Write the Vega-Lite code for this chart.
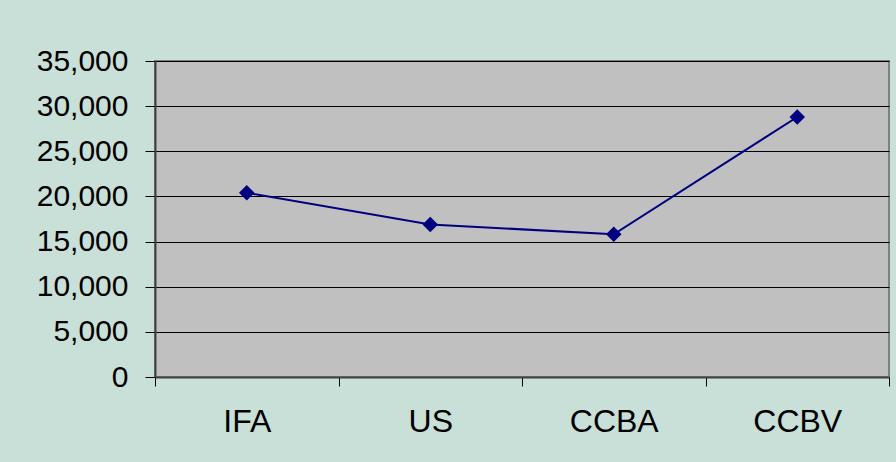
{
  "$schema": "https://vega.github.io/schema/vega-lite/v6.json",
  "width": 734,
  "height": 316,
  "autosize": {"type": "none"},
  "padding": {"left": 155, "top": 61, "right": 7, "bottom": 85},
  "background": "#c8e0d8",
  "data": {
    "values": [
      {"group": "IFA", "value": 20400},
      {"group": "US", "value": 16900},
      {"group": "CCBA", "value": 15800},
      {"group": "CCBV", "value": 28800}
    ]
  },
  "config": {
    "font": "Liberation Sans",
    "view": {"fill": "#c0c0c0", "stroke": "#808080", "strokeWidth": 2}
  },
  "mark": {"type": "line", "color": "#000080", "strokeWidth": 2, "point": {"shape": "diamond", "size": 240, "filled": true, "color": "#000080", "opacity": 1}},
  "encoding": {
    "x": {
      "field": "group",
      "type": "nominal",
      "sort": null,
      "scale": {"type": "band", "paddingInner": 0, "paddingOuter": 0},
      "axis": {
        "title": null,
        "labelAngle": 0,
        "labelFontSize": 32,
        "labelColor": "black",
        "labelPadding": 20,
        "tickBand": "extent",
        "tickSize": 9,
        "tickColor": "black",
        "domainColor": "#404040",
        "domainWidth": 2,
        "grid": false
      }
    },
    "y": {
      "field": "value",
      "type": "quantitative",
      "scale": {"domain": [0, 35000], "nice": false},
      "axis": {
        "title": null,
        "values": [0, 5000, 10000, 15000, 20000, 25000, 30000, 35000],
        "format": ",d",
        "labelFontSize": 30,
        "labelColor": "black",
        "labelPadding": 17,
        "tickSize": 10,
        "tickColor": "black",
        "domainColor": "#404040",
        "domainWidth": 2,
        "grid": true,
        "gridColor": "black",
        "gridWidth": 1
      }
    }
  }
}
